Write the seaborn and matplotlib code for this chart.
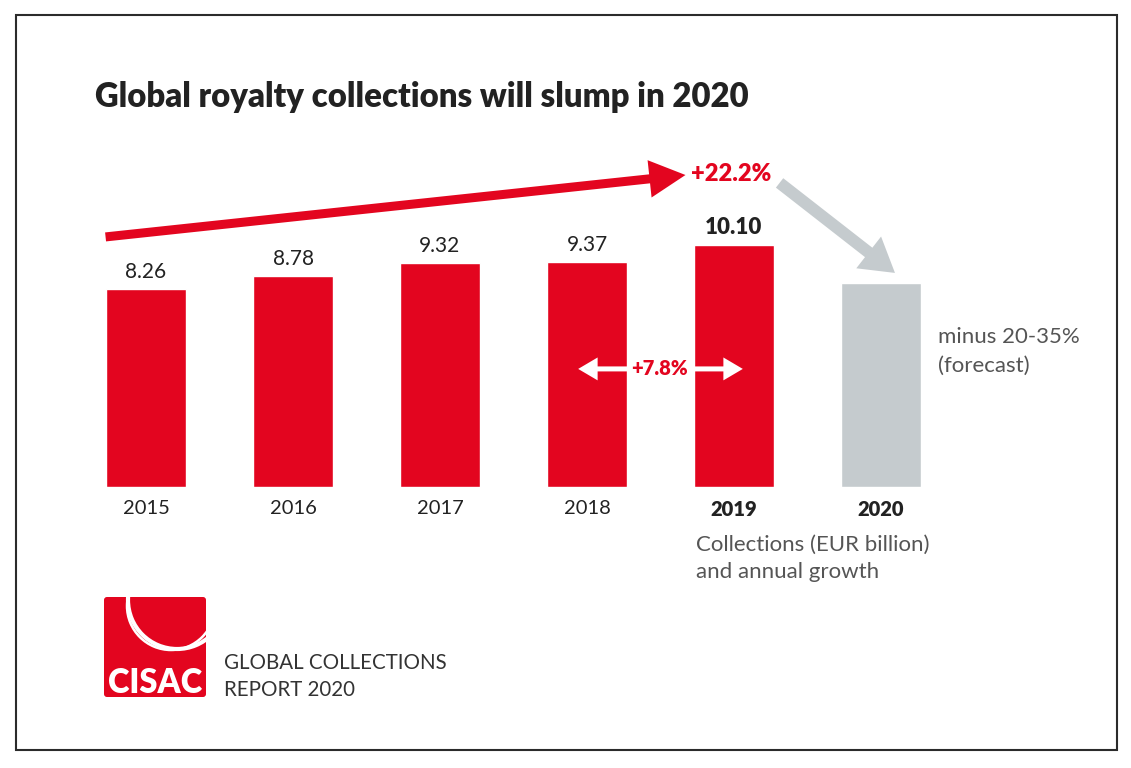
import matplotlib
matplotlib.use("Agg")
import matplotlib.pyplot as plt
import seaborn as sns
from matplotlib.patches import FancyArrowPatch, Rectangle, FancyBboxPatch, Arc

# Global royalty collections, EUR billion
years = ["2015", "2016", "2017", "2018", "2019", "2020"]
collections = [8.26, 8.78, 9.32, 9.37, 10.10, 8.50]  # 2020 = forecast bar, height
value_labels = ["8.26", "8.78", "9.32", "9.37", "10.10", ""]
bar_colors = ["#e3051f"] * 5 + ["#c5cbce"]

RED = "#e3051f"
GREY = "#c5cbce"
TXT = "#222222"

sns.set_theme(style="white")
plt.rcParams["font.family"] = ["Lato", "DejaVu Sans"]

fig = plt.figure(figsize=(11.31, 7.68), dpi=100)
fig.patch.set_facecolor("white")

# main axes: 147 px per bar slot, 24 px per EUR billion
ax = fig.add_axes([72.5 / 1131, 281 / 768, 882 / 1131, 347 / 768])
sns.barplot(x=years, y=collections, hue=years, palette=bar_colors, width=0.55,
            saturation=1, legend=False, ax=ax)
ax.set_xlim(-0.5, 5.5)
ax.set_ylim(0, 347 / 24)
ax.axis("off")

# value labels
for i, (v, lab) in enumerate(zip(collections, value_labels)):
    bold = years[i] == "2019"
    ax.annotate(lab, (i, v), xytext=(0, 5), textcoords="offset points",
                ha="center", va="bottom", fontsize=16 if bold else 15,
                fontweight="heavy" if bold else "normal", color=TXT)

# year labels
for i, y in enumerate(years):
    bold = y in ("2019", "2020")
    ax.annotate(y, (i, 0), xytext=(0, -9), textcoords="offset points",
                ha="center", va="top", fontsize=14.5,
                fontweight="heavy" if bold else "normal", color=TXT,
                annotation_clip=False)

# long red growth arrow
red_arrow = FancyArrowPatch((-0.275, 10.42), (3.67, 13.0),
                            arrowstyle="simple,head_length=26,head_width=27,tail_width=6.5",
                            mutation_scale=1, color=RED, lw=0,
                            shrinkA=0, shrinkB=0, clip_on=False)
ax.add_patch(red_arrow)
ax.text(3.98, 13.04, "+22.2%", ha="center", va="center", fontsize=17,
        fontweight="heavy", color=RED, clip_on=False)

# grey slump arrow
grey_arrow = FancyArrowPatch((4.31, 12.67), (5.095, 8.92),
                             arrowstyle="simple,head_length=24,head_width=29,tail_width=8.6",
                             mutation_scale=1, color=GREY, lw=0,
                             shrinkA=0, shrinkB=0, clip_on=False)
ax.add_patch(grey_arrow)

# white double arrow 2018 -> 2019
for end in (2.94, 4.06):
    ax.add_patch(FancyArrowPatch((3.5, 4.92), (end, 4.92),
                                 arrowstyle="simple,head_length=14,head_width=16.5,tail_width=3.6",
                                 mutation_scale=1, color="white", lw=0,
                                 shrinkA=0, shrinkB=0))
ax.text(3.49, 4.92, "+7.8%", ha="center", va="center", fontsize=14.5,
        fontweight="heavy", color=RED,
        bbox=dict(boxstyle="square,pad=0.1", fc="white", ec="none"))

note = dict(ha="left", va="center", fontsize=16, color="#555555", clip_on=False)
ax.text(5.39, 6.25, "minus 20-35%", **note)
ax.text(5.39, 5.04, "(forecast)", **note)
ax.text(3.74, -2.42, "Collections (EUR billion)", **note)
ax.text(3.74, -3.55, "and annual growth", **note)

# overlay in pixel coordinates for frame, title and logo
ov = fig.add_axes([0, 0, 1, 1], zorder=-1)
ov.set_xlim(0, 1131)
ov.set_ylim(768, 0)
ov.axis("off")

ov.add_patch(Rectangle((16, 15), 1101, 735, fill=False, ec="#2b2b2b", lw=1.5))
ov.text(95, 107, "Global royalty collections will slump in 2020", ha="left",
        va="baseline", fontsize=23.7, fontweight="heavy", color=TXT)

logo = FancyBboxPatch((104, 597), 102, 100, boxstyle="round,pad=0,rounding_size=3",
                      fc="#e3051f", ec="none")
ov.add_patch(logo)
for (cx, cy, r, lw) in [(177, 600, 49, 3.0), (171, 606, 44, 1.8)]:
    a = Arc((cx, cy), 2 * r, 2 * r, theta1=0, theta2=360, color="white", lw=lw)
    a.set_clip_path(logo)
    ov.add_patch(a)
ov.text(155, 693, "CISAC", ha="center", va="baseline", fontsize=23.5,
        fontweight="heavy", color="white")

ov.text(224, 669, "GLOBAL COLLECTIONS", ha="left", va="baseline", fontsize=14.8,
        color="#333333")
ov.text(224, 696, "REPORT 2020", ha="left", va="baseline", fontsize=14.8,
        color="#333333")

fig.savefig("out.png", dpi=100, facecolor="white")
